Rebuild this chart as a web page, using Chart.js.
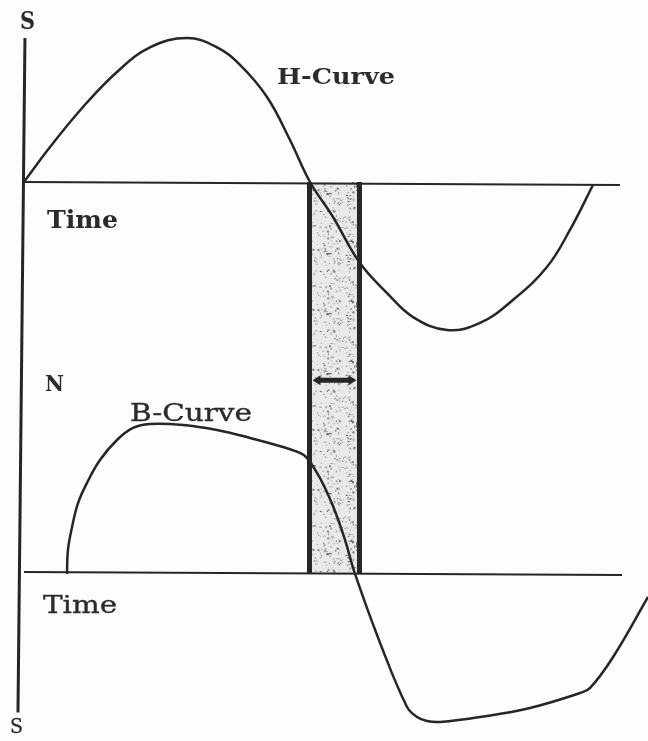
<!DOCTYPE html>
<html>
<head>
<meta charset="utf-8">
<title>H-Curve and B-Curve</title>
<script src="https://cdn.jsdelivr.net/npm/chart.js@4/dist/chart.umd.min.js"></script>
<style>
  html, body { margin: 0; padding: 0; background: #fdfdfd; }
  #wrap { width: 648px; height: 741px; }
</style>
</head>
<body>
<div id="wrap"><canvas id="c" width="648" height="741"></canvas></div>
<script>
// Phase of the cycle (degrees) and normalised field strength H.
const hPhase  = [0, 16.4, 37.2, 58.6, 79.4, 102.8, 121.7, 136.2, 153.2, 167.7, 180.3, 194.8, 211.8, 228.9, 245.3, 266.7, 287.5, 308.3, 329.7, 344.2, 358.7];
const hValues = [0, 0.243, 0.521, 0.764, 0.935, 1.000, 0.935, 0.813, 0.590, 0.292, 0, -0.243, -0.563, -0.771, -0.938, -1.028, -0.979, -0.819, -0.590, -0.333, -0.021];

// Phase (degrees) and normalised flux density B, lagging behind H.
const bPhase  = [27.1, 27.7, 30.3, 34.1, 39.7, 47.9, 58.6, 68.7, 79.4, 100.3, 121.7, 142.5, 163.3, 174.0, 178.4, 186.6, 194.8, 202.4, 208.7, 224.5, 241.5, 247.8, 254.1, 262.3, 287.5, 319.0, 350.6, 356.9, 371.4, 393.4, 401.0];
const bValues = [0, 0.161, 0.315, 0.477, 0.611, 0.765, 0.899, 0.980, 1.007, 1.000, 0.966, 0.913, 0.852, 0.812, 0.779, 0.644, 0.456, 0.228, 0, -0.463, -0.893, -0.960, -0.987, -0.993, -0.960, -0.899, -0.799, -0.765, -0.557, -0.154, -0.013];

// Lag between H crossing zero and B crossing zero (degrees).
const lagStart = 180;
const lagEnd = 211.5;

// Extent of the two time axes (degrees).
const timeAxisEnd = [375.8, 377];

const curveLabels = ['H-Curve', 'B-Curve'];
const axisLabels = ['S', 'N', 'S', 'Time', 'Time'];

const INK = '#262626';

function pts(xs, ys) { return xs.map((x, i) => ({ x: x, y: ys[i] })); }

// Stippled fill for the lag band.
function stipple() {
  const p = document.createElement('canvas');
  p.width = 46; p.height = 60;
  const g = p.getContext('2d');
  g.fillStyle = '#e9e9e9';
  g.fillRect(0, 0, p.width, p.height);
  let s = 7;
  const next = () => { s = (s * 1103515245 + 12345) % 2147483648; return s / 2147483648; };
  for (let i = 0; i < 170; i++) {
    const x = next() * p.width, y = next() * p.height;
    const shade = 80 + Math.floor(next() * 110);
    g.fillStyle = 'rgb(' + shade + ',' + shade + ',' + shade + ')';
    g.fillRect(x, y, 1 + (next() > 0.7 ? 1 : 0), 1 + (next() > 0.6 ? 1 : 0));
  }
  return p;
}

// Draws text stretched to a given width; an optional stroke thickens light faces.
function fitText(ctx, text, left, baseline, font, width, stroke) {
  ctx.save();
  ctx.font = font;
  const w = ctx.measureText(text).width;
  ctx.translate(left, baseline);
  ctx.scale(width / w, 1);
  ctx.textBaseline = 'alphabetic';
  ctx.textAlign = 'left';
  ctx.fillText(text, 0, 0);
  if (stroke) {
    ctx.strokeStyle = ctx.fillStyle;
    ctx.lineWidth = stroke;
    ctx.strokeText(text, 0, 0);
  }
  ctx.restore();
}

const diagram = {
  id: 'diagram',
  beforeDatasetsDraw(chart) {
    const ctx = chart.ctx;
    const x = chart.scales.x, yH = chart.scales.yH, yB = chart.scales.yB;
    const x0 = x.getPixelForValue(lagStart), x1 = x.getPixelForValue(lagEnd);
    const top = yH.getPixelForValue(0), bot = yB.getPixelForValue(0);

    ctx.save();
    // stippled band
    ctx.fillStyle = ctx.createPattern(stipple(), 'repeat');
    ctx.fillRect(x0, top, x1 - x0, bot - top);

    ctx.strokeStyle = INK;
    ctx.lineCap = 'butt';
    // S-S axis
    ctx.lineWidth = 3;
    ctx.beginPath();
    ctx.moveTo(x.getPixelForValue(0.6), yH.getPixelForValue(1.0));
    ctx.lineTo(x.getPixelForValue(-3.8), yB.getPixelForValue(-0.93));
    ctx.stroke();

    // time axes
    ctx.lineWidth = 2;
    const xs = x.getPixelForValue(0);
    ctx.beginPath();
    ctx.moveTo(xs, top);
    ctx.lineTo(x.getPixelForValue(timeAxisEnd[0]), top + 3);
    ctx.stroke();
    ctx.beginPath();
    ctx.moveTo(xs, bot - 2);
    ctx.lineTo(x.getPixelForValue(timeAxisEnd[1]), bot + 1);
    ctx.stroke();

    // band edges
    ctx.lineWidth = 5;
    ctx.beginPath();
    ctx.moveTo(x0, top); ctx.lineTo(x0, bot);
    ctx.moveTo(x1, top); ctx.lineTo(x1, bot);
    ctx.stroke();

    // double-headed lag arrow
    const ya = yB.getPixelForValue(1.30);
    const a0 = x0 + 3, a1 = x1 - 3;
    ctx.lineWidth = 5;
    ctx.beginPath();
    ctx.moveTo(a0 + 6, ya); ctx.lineTo(a1 - 6, ya);
    ctx.stroke();
    ctx.fillStyle = INK;
    ctx.beginPath();
    ctx.moveTo(a0, ya); ctx.lineTo(a0 + 8, ya - 5); ctx.lineTo(a0 + 8, ya + 5); ctx.closePath();
    ctx.moveTo(a1, ya); ctx.lineTo(a1 - 8, ya - 5); ctx.lineTo(a1 - 8, ya + 5); ctx.closePath();
    ctx.fill();
    ctx.restore();
  },
  afterDatasetsDraw(chart) {
    const ctx = chart.ctx;
    ctx.save();
    ctx.fillStyle = '#2b2b2b';
    const serif = 'DejaVu Serif, Liberation Serif, serif';
    fitText(ctx, axisLabels[0], 20, 29, 'bold 25px ' + serif, 15);
    fitText(ctx, curveLabels[0], 277, 84, 'bold 23px ' + serif, 118);
    fitText(ctx, axisLabels[3], 47, 228, 'bold 24px ' + serif, 71);
    fitText(ctx, axisLabels[1], 45, 391, 'bold 23px ' + serif, 19);
    fitText(ctx, curveLabels[1], 130, 421, '24px ' + serif, 122, 0.35);
    fitText(ctx, axisLabels[4], 43, 613, '24px ' + serif, 74, 0.35);
    fitText(ctx, axisLabels[2], 10, 733, '21px ' + serif, 13, 0.3);
    ctx.restore();
  }
};

const curveStyle = {
  borderColor: INK,
  borderWidth: 2.5,
  pointRadius: 0,
  fill: false,
  tension: 0.4
};

new Chart(document.getElementById('c'), {
  type: 'line',
  data: {
    datasets: [
      Object.assign({ label: curveLabels[0], data: pts(hPhase, hValues), yAxisID: 'yH' }, curveStyle),
      Object.assign({ label: curveLabels[1], data: pts(bPhase, bValues), yAxisID: 'yB' }, curveStyle)
    ]
  },
  options: {
    responsive: false,
    animation: false,
    events: [],
    layout: { padding: 0 },
    plugins: { legend: { display: false }, tooltip: { enabled: false } },
    scales: {
      x: { type: 'linear', display: false, min: -15.13, max: 393.4 },
      yH: { type: 'linear', display: false, min: -3.882, max: 1.264 },
      yB: { type: 'linear', display: false, min: -1.121, max: 3.852 }
    }
  },
  plugins: [diagram]
});
</script>
</body>
</html>
